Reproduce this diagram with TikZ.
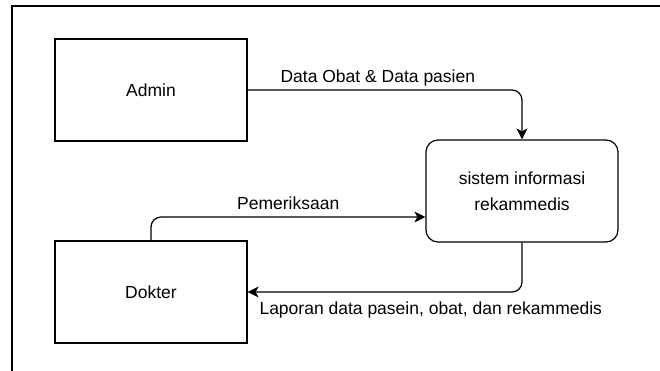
\documentclass[tikz,border=0pt]{standalone}
\usepackage{fontspec}
\setmainfont{Liberation Sans}
\usetikzlibrary{arrows.meta}

\begin{document}
\begin{tikzpicture}[
  x=1pt, y=-1pt,
  entity/.style={rectangle, draw, line width=1.2pt, minimum width=192pt, minimum height=102pt, align=center},
  process/.style={entity, rounded corners=12pt},
  flow/.style={-{Stealth[length=11pt,width=11pt,inset=3pt]}, line width=1.2pt, rounded corners=10pt},
  font=\fontsize{17.5}{26}\selectfont
]
\useasboundingbox (0,0) rectangle (660,371);
\draw[line width=1.5pt] (12,371) -- (12,6) -- (660,6);

\node[entity] (admin) at (151,90) {Admin};
\node[entity, below of=admin, node distance=202pt] (dokter) {Dokter};
\node[process] (sistem) at (522,191) {sistem informasi\\rekammedis};
\coordinate (sistem in) at ([yshift=-26pt]sistem.west);

\draw[flow] (admin) -| node[pos=0.25, above, xshift=-7pt] {Data Obat \& Data pasien} (sistem);
\draw[flow] (dokter.north) |- node[pos=0.75, above, yshift=3pt] {Pemeriksaan} (sistem in);
\draw[flow] (sistem.south) |- node[pos=1, anchor=north west, xshift=8pt, yshift=-6pt] {Laporan data pasein, obat, dan rekammedis} (dokter.east);
\end{tikzpicture}
\end{document}
